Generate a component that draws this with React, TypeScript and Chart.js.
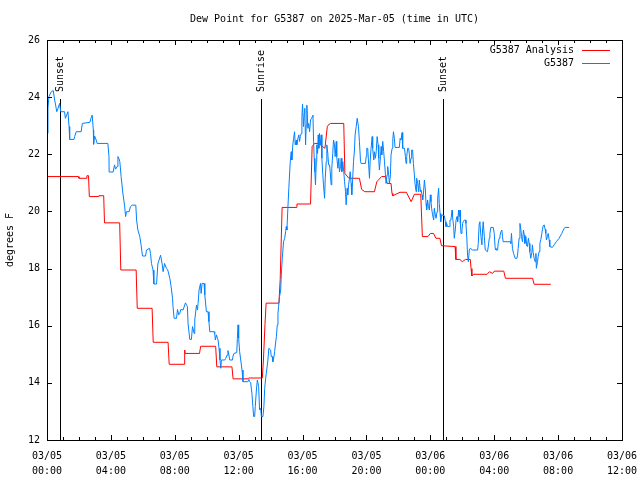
import React, { useEffect, useRef } from "react";
import { Chart, registerables } from "chart.js";

Chart.register(...registerables);

const chartTitle = "Dew Point for G5387 on 2025-Mar-05 (time in UTC)";
const yAxisTitle = "degrees F";
const xTickDates = ["03/05", "03/05", "03/05", "03/05", "03/05", "03/05", "03/06", "03/06", "03/06", "03/06"];
const xTickTimes = ["00:00", "04:00", "08:00", "12:00", "16:00", "20:00", "00:00", "04:00", "08:00", "12:00"];
const yTicks = [12, 14, 16, 18, 20, 22, 24, 26];
const sunLabels = ["Sunset", "Sunrise", "Sunset"];
const sunHours = [0.82, 13.39, 24.77];
const seriesNames = ["G5387 Analysis", "G5387"];
const seriesColors = ["#ff0000", "#0080ff"];

// [hours since 2025-03-05 00:00 UTC, dew point °F]
const analysisSeries: [number, number][] = [
  [0, 21.22], [1.96, 21.22], [2.0, 21.16], [2.45, 21.16], [2.5, 21.25], [2.6, 21.25], [2.65, 20.52],
  [3.2, 20.52], [3.25, 20.55], [3.55, 20.55], [3.6, 19.6], [4.55, 19.6], [4.62, 17.95], [5.58, 17.95],
  [5.65, 16.61], [6.58, 16.61], [6.65, 15.42], [7.58, 15.42], [7.65, 14.65], [8.58, 14.65], [8.62, 15.15],
  [8.65, 15.03], [9.55, 15.03], [9.62, 15.28], [10.56, 15.28], [10.63, 14.56], [11.58, 14.56], [11.65, 14.14],
  [12.58, 14.14], [12.62, 14.17], [13.48, 14.17], [13.55, 14.8], [13.65, 16.08], [13.72, 16.79], [14.52, 16.79],
  [14.6, 17.62], [14.72, 20.14], [15.6, 20.14], [15.65, 20.26], [16.5, 20.26], [16.6, 22.27], [16.75, 22.38],
  [17.0, 22.38], [17.4, 22.21], [17.55, 22.97], [17.6, 23.02], [17.75, 23.08], [18.58, 23.08], [18.65, 21.33],
  [18.9, 21.16], [19.56, 21.16], [19.7, 20.77], [19.9, 20.69], [20.5, 20.69], [20.65, 21.04], [20.95, 21.22],
  [21.2, 21.22], [21.3, 20.98], [21.54, 20.98], [21.6, 20.63], [21.65, 20.55], [22.1, 20.67], [22.5, 20.67],
  [22.8, 20.34], [23.0, 20.6], [23.4, 20.6], [23.5, 19.12], [23.85, 19.12], [24.0, 19.23], [24.2, 19.23],
  [24.35, 19.06], [24.6, 19.06], [24.7, 18.8], [25.55, 18.77], [25.6, 18.32], [25.85, 18.32], [26.0, 18.24],
  [26.2, 18.32], [26.5, 18.32], [26.55, 18.0], [26.6, 17.74], [26.7, 17.8], [27.55, 17.8], [27.7, 17.89],
  [27.9, 17.83], [28.0, 17.91], [28.6, 17.91], [28.7, 17.66], [30.4, 17.66], [30.5, 17.45], [31.54, 17.45],
];

const observedSeries: [number, number][] = [
  [0.0, 22.73], [0.06, 23.61], [0.12, 24.02], [0.27, 24.19], [0.39, 24.23], [0.48, 23.9], [0.54, 23.72],
  [0.61, 23.49], [0.69, 23.61], [0.79, 23.78], [0.86, 23.49], [1.1, 23.49], [1.15, 23.26], [1.23, 23.37],
  [1.31, 23.49], [1.38, 22.97], [1.42, 22.52], [1.69, 22.52], [1.73, 22.62], [1.83, 22.79], [2.14, 22.79],
  [2.21, 23.08], [2.69, 23.12], [2.75, 23.26], [2.83, 23.37], [2.9, 22.85], [2.92, 22.35], [2.98, 22.64],
  [3.08, 22.5], [3.14, 22.38], [3.81, 22.38], [3.88, 21.92], [3.89, 21.38], [4.14, 21.38], [4.23, 21.63],
  [4.29, 21.48], [4.39, 21.57], [4.44, 21.92], [4.5, 21.86], [4.56, 21.74], [4.64, 21.22], [4.75, 20.64],
  [4.86, 20.19], [4.92, 19.82], [4.98, 19.99], [5.14, 19.99], [5.23, 20.17], [5.33, 20.22], [5.56, 20.22],
  [5.61, 19.7], [5.69, 19.35], [5.81, 19.12], [5.89, 18.83], [5.98, 18.44], [6.17, 18.44], [6.23, 18.65],
  [6.42, 18.71], [6.48, 18.53], [6.54, 18.18], [6.64, 17.95], [6.69, 17.46], [6.86, 17.46], [6.94, 18.16],
  [7.11, 18.47], [7.21, 18.16], [7.27, 17.89], [7.36, 18.18], [7.48, 18.0], [7.56, 17.95], [7.69, 17.66],
  [7.77, 17.37], [7.86, 16.96], [7.89, 16.67], [7.96, 16.26], [8.11, 16.26], [8.17, 16.57], [8.25, 16.38],
  [8.31, 16.43], [8.38, 16.57], [8.52, 16.55], [8.67, 16.8], [8.73, 16.73], [8.79, 16.67], [8.83, 16.08],
  [8.94, 15.52], [9.04, 15.52], [9.11, 15.97], [9.21, 15.73], [9.25, 16.2], [9.36, 16.72], [9.42, 16.55],
  [9.46, 16.78], [9.52, 17.25], [9.61, 17.48], [9.65, 17.13], [9.71, 17.48], [9.83, 17.48], [9.88, 17.08],
  [9.98, 16.49], [10.08, 16.49], [10.14, 16.14], [10.19, 15.79], [10.46, 15.79], [10.5, 15.73], [10.54, 15.5],
  [10.61, 15.68], [10.67, 15.56], [10.71, 15.5], [10.77, 15.21], [10.83, 14.8], [10.88, 14.51], [10.92, 14.8],
  [11.13, 14.8], [11.19, 14.86], [11.27, 14.97], [11.33, 15.13], [11.39, 14.97], [11.44, 14.8], [11.61, 14.8],
  [11.65, 14.94], [11.71, 15.03], [11.88, 15.06], [11.92, 15.56], [11.96, 16.03], [12.0, 15.56], [12.06, 15.09],
  [12.13, 14.8], [12.21, 14.45], [12.27, 14.04], [12.58, 14.04], [12.64, 14.12], [12.69, 14.04], [12.75, 14.01],
  [12.83, 13.63], [12.89, 13.17], [12.94, 12.82], [13.0, 12.82], [13.04, 13.17], [13.11, 13.75], [13.17, 14.1],
  [13.25, 13.87], [13.31, 13.05], [13.38, 13.11], [13.42, 12.82], [13.52, 12.82], [13.58, 13.17], [13.63, 13.81],
  [13.69, 14.16], [13.73, 14.33], [13.83, 14.8], [13.89, 15.21], [14.0, 15.15], [14.04, 14.92], [14.11, 14.92],
  [14.14, 14.74], [14.21, 14.92], [14.25, 15.09], [14.36, 15.62], [14.42, 16.03], [14.46, 16.43], [14.5, 16.67],
  [14.56, 17.02], [14.63, 17.25], [14.67, 17.78], [14.73, 18.36], [14.81, 18.94], [14.88, 19.06], [14.94, 19.29],
  [14.98, 19.47], [15.02, 19.35], [15.08, 20.11], [15.14, 20.81], [15.23, 21.74], [15.29, 22.09], [15.33, 21.8],
  [15.39, 22.33], [15.44, 22.56], [15.5, 22.79], [15.54, 22.33], [15.61, 22.5], [15.64, 22.33], [15.71, 22.56],
  [15.77, 22.68], [15.81, 22.45], [15.86, 22.62], [15.92, 22.73], [15.96, 23.32], [16.0, 23.75], [16.06, 22.97],
  [16.11, 23.43], [16.14, 23.61], [16.19, 22.33], [16.23, 23.03], [16.27, 23.72], [16.33, 22.91], [16.38, 23.08],
  [16.44, 22.79], [16.5, 23.2], [16.56, 23.26], [16.61, 23.32], [16.65, 23.37], [16.69, 22.45], [16.73, 21.86],
  [16.77, 21.39], [16.81, 20.93], [16.86, 21.74], [16.89, 22.33], [16.94, 22.03], [16.98, 22.68], [17.02, 22.21],
  [17.06, 22.73], [17.11, 22.33], [17.17, 22.68], [17.21, 21.86], [17.27, 21.28], [17.31, 20.93], [17.38, 20.46],
  [17.42, 21.16], [17.48, 21.74], [17.52, 22.33], [17.58, 22.03], [17.63, 21.63], [17.69, 21.63], [17.73, 21.39],
  [17.79, 20.93], [17.83, 21.51], [17.89, 22.03], [17.94, 22.5], [18.0, 22.33], [18.04, 21.92], [18.11, 22.45],
  [18.14, 21.92], [18.21, 21.51], [18.27, 21.86], [18.31, 21.39], [18.38, 21.57], [18.42, 21.86], [18.46, 21.39],
  [18.52, 21.74], [18.58, 21.39], [18.63, 21.04], [18.69, 20.69], [18.73, 20.23], [18.79, 20.81], [18.83, 20.58],
  [18.88, 20.93], [18.94, 21.16], [18.98, 21.39], [19.04, 20.98], [19.08, 20.58], [19.14, 21.16], [19.19, 21.74],
  [19.25, 22.15], [19.29, 22.68], [19.36, 22.97], [19.42, 23.26], [19.46, 23.26], [19.5, 22.97], [19.56, 22.45],
  [19.63, 21.74], [19.67, 21.68], [19.94, 21.68], [19.98, 21.92], [20.02, 22.21], [20.08, 22.21], [20.14, 21.63],
  [20.19, 21.16], [20.23, 21.74], [20.29, 22.21], [20.36, 22.62], [20.39, 22.21], [20.46, 21.8], [20.5, 22.09],
  [20.56, 21.86], [20.61, 22.09], [20.67, 22.62], [20.73, 22.33], [20.77, 21.86], [20.81, 21.45], [20.88, 21.92],
  [20.92, 22.27], [20.96, 21.98], [21.02, 22.45], [21.08, 22.09], [21.13, 21.74], [21.19, 21.28], [21.23, 20.98],
  [21.29, 21.28], [21.33, 21.57], [21.39, 21.28], [21.44, 20.98], [21.5, 21.28], [21.54, 21.98], [21.61, 22.21],
  [21.65, 22.5], [21.69, 22.79], [21.75, 22.56], [21.79, 22.24], [22.06, 22.24], [22.11, 22.56], [22.17, 22.5],
  [22.23, 22.76], [22.27, 22.21], [22.38, 22.21], [22.44, 21.92], [22.48, 21.68], [22.52, 21.92], [22.58, 22.21],
  [22.64, 22.21], [22.69, 21.98], [22.73, 21.68], [22.79, 21.86], [22.83, 22.15], [22.89, 22.15], [22.94, 21.68],
  [23.0, 21.28], [23.04, 20.98], [23.11, 20.69], [23.14, 21.16], [23.21, 20.98], [23.27, 20.69], [23.31, 21.1],
  [23.38, 20.69], [23.42, 20.75], [23.48, 20.58], [23.52, 20.4], [23.56, 20.58], [23.63, 21.1], [23.69, 20.75],
  [23.73, 20.28], [23.77, 20.05], [23.83, 20.4], [23.88, 20.17], [23.94, 20.05], [24.0, 20.58], [24.04, 20.34],
  [24.08, 20.11], [24.14, 19.88], [24.21, 19.7], [24.25, 20.11], [24.31, 19.88], [24.36, 19.76], [24.42, 19.99],
  [24.46, 20.46], [24.52, 20.81], [24.56, 20.28], [24.61, 19.93], [24.65, 19.64], [24.71, 19.88], [24.88, 19.85],
  [24.94, 19.64], [24.98, 19.47], [25.02, 19.58], [25.08, 19.47], [25.19, 19.47], [25.23, 19.7], [25.29, 19.7],
  [25.36, 20.05], [25.39, 19.82], [25.46, 19.47], [25.5, 19.06], [25.56, 19.35], [25.61, 19.7], [25.67, 19.82],
  [25.71, 19.64], [25.77, 20.05], [25.81, 19.82], [25.86, 20.05], [25.88, 19.58], [25.92, 19.23], [25.98, 19.35],
  [26.02, 19.58], [26.06, 19.64], [26.13, 19.7], [26.19, 19.7], [26.23, 19.58], [26.29, 19.0], [26.33, 18.47],
  [26.38, 18.24], [26.44, 18.65], [26.5, 18.71], [26.64, 18.65], [26.96, 18.65], [27.0, 18.88], [27.06, 19.58],
  [27.1, 19.64], [27.17, 19.12], [27.23, 18.83], [27.27, 19.35], [27.31, 19.64], [27.38, 19.12], [27.44, 18.65],
  [27.58, 18.59], [27.64, 18.83], [27.69, 19.06], [27.73, 19.23], [27.79, 19.44], [27.94, 19.44], [28.0, 19.23],
  [28.06, 18.71], [28.11, 18.65], [28.21, 18.65], [28.25, 18.88], [28.31, 19.06], [28.36, 19.14], [28.42, 19.29],
  [28.48, 19.35], [28.52, 19.12], [28.56, 18.94], [29.0, 18.94], [29.04, 18.88], [29.08, 19.23], [29.14, 18.71],
  [29.21, 18.53], [29.25, 18.47], [29.31, 18.36], [29.42, 18.36], [29.46, 18.47], [29.5, 18.71], [29.56, 19.06],
  [29.61, 19.58], [29.67, 19.35], [29.71, 19.12], [29.77, 18.94], [29.83, 19.35], [29.88, 19.17], [29.92, 18.88],
  [29.98, 19.12], [30.04, 18.79], [30.08, 18.77], [30.14, 19.06], [30.19, 18.88], [30.23, 18.59], [30.29, 18.36],
  [30.36, 18.59], [30.39, 18.83], [30.44, 18.56], [30.5, 18.36], [30.56, 18.24], [30.61, 18.53], [30.64, 18.01],
  [30.71, 18.24], [30.75, 18.42], [30.81, 18.59], [30.86, 18.88], [30.92, 19.02], [30.98, 19.23], [31.02, 19.37],
  [31.06, 19.49], [31.13, 19.53], [31.19, 19.37], [31.23, 19.23], [31.27, 19.0], [31.33, 19.12], [31.38, 19.23],
  [31.44, 19.0], [31.48, 18.77], [31.64, 18.74], [31.75, 18.83], [31.89, 18.94], [32.06, 19.06], [32.23, 19.23],
  [32.38, 19.41], [32.44, 19.44], [32.69, 19.44],
];

const FONT = "'DejaVu Sans Mono', 'Liberation Mono', monospace";

const framePlugin = {
  id: "gnuplotFrame",
  beforeDatasetsDraw(chart: any) {
    const { ctx, chartArea, scales } = chart;
    ctx.save();
    ctx.strokeStyle = "#000";
    ctx.lineWidth = 1;
    ctx.fillStyle = "#000";
    ctx.font = `10px ${FONT}`;
    sunHours.forEach((h, i) => {
      const x = Math.round(scales.x.getPixelForValue(h)) + 0.5;
      ctx.beginPath();
      ctx.moveTo(x, chartArea.bottom);
      ctx.lineTo(x, chartArea.top + 59);
      ctx.stroke();
      ctx.save();
      ctx.translate(x, chartArea.top + 52);
      ctx.rotate(-Math.PI / 2);
      ctx.textAlign = "left";
      ctx.textBaseline = "middle";
      ctx.fillText(sunLabels[i], 0, 0);
      ctx.restore();
    });
    ctx.restore();
  },
  afterDraw(chart: any) {
    const { ctx, chartArea, scales } = chart;
    const { left, right, top, bottom } = chartArea;
    ctx.save();
    ctx.strokeStyle = "#000";
    ctx.lineWidth = 1;
    ctx.beginPath();
    for (let h = 0; h <= 36; h += 1) {
      const x = Math.round(scales.x.getPixelForValue(h)) + 0.5;
      const len = h % 4 === 0 ? 5 : 3;
      ctx.moveTo(x, bottom);
      ctx.lineTo(x, bottom - len);
      ctx.moveTo(x, top);
      ctx.lineTo(x, top + len);
    }
    yTicks.forEach((v) => {
      const y = Math.round(scales.y.getPixelForValue(v)) + 0.5;
      ctx.moveTo(left, y);
      ctx.lineTo(left + 5, y);
      ctx.moveTo(right, y);
      ctx.lineTo(right - 5, y);
    });
    ctx.stroke();
    ctx.strokeRect(Math.round(left) + 0.5, Math.round(top) + 0.5, Math.round(right - left), Math.round(bottom - top));

    ctx.fillStyle = "#000";
    ctx.font = `10px ${FONT}`;
    ctx.textAlign = "center";
    ctx.textBaseline = "middle";
    ctx.fillText(chartTitle, (left + right) / 2, 19);

    seriesNames.forEach((name, i) => {
      const y = top + 10 + i * 13;
      ctx.textAlign = "right";
      ctx.fillStyle = "#000";
      ctx.fillText(name, right - 48, y);
      ctx.strokeStyle = seriesColors[i];
      ctx.beginPath();
      ctx.moveTo(right - 40, Math.round(y) + 0.5);
      ctx.lineTo(right - 12, Math.round(y) + 0.5);
      ctx.stroke();
    });
    ctx.restore();
  },
};

export default function App() {
  const canvasRef = useRef<HTMLCanvasElement | null>(null);

  useEffect(() => {
    if (!canvasRef.current) return;
    const chart = new Chart(canvasRef.current, {
      type: "line",
      data: {
        datasets: [
          {
            label: seriesNames[0],
            data: analysisSeries.map(([x, y]) => ({ x, y })),
            borderColor: seriesColors[0],
            borderWidth: 1,
            pointRadius: 0,
            tension: 0,
            order: 1,
          },
          {
            label: seriesNames[1],
            data: observedSeries.map(([x, y]) => ({ x, y })),
            borderColor: seriesColors[1],
            borderWidth: 1,
            pointRadius: 0,
            tension: 0,
            order: 0,
          },
        ],
      },
      options: {
        animation: false,
        responsive: false,
        layout: { padding: { top: 40, right: 18, bottom: 0, left: 0 } },
        plugins: {
          legend: { display: false },
          tooltip: { enabled: false },
          title: { display: false },
        },
        scales: {
          x: {
            type: "linear",
            min: 0,
            max: 36,
            grid: { display: false, drawTicks: false },
            border: { display: false },
            ticks: {
              stepSize: 4,
              autoSkip: false,
              maxRotation: 0,
              padding: 8.5,
              color: "#000",
              font: { family: FONT, size: 10, lineHeight: 1.5 },
              callback: (_v: any, i: number) => [xTickDates[i], xTickTimes[i]],
            },
            afterFit: (s: any) => {
              s.height = 40;
              s.paddingLeft = 0;
              s.paddingRight = 0;
            },
          },
          y: {
            type: "linear",
            min: 12,
            max: 26,
            grid: { display: false, drawTicks: false },
            border: { display: false },
            afterBuildTicks: (s: any) => {
              s.ticks = yTicks.map((v) => ({ value: v }));
            },
            ticks: {
              padding: 7,
              color: "#000",
              font: { family: FONT, size: 10 },
              callback: (v: any) => String(v),
            },
            title: {
              display: true,
              text: yAxisTitle,
              color: "#000",
              font: { family: FONT, size: 10 },
              padding: { top: 4, bottom: 4 },
            },
            afterFit: (s: any) => {
              s.width = 47;
              s.paddingTop = 0;
              s.paddingBottom = 0;
            },
          },
        },
      },
      plugins: [framePlugin],
    });
    return () => chart.destroy();
  }, []);

  return (
    <div style={{ position: "fixed", left: 0, top: 0, width: 640, height: 480, background: "#fff" }}>
      <canvas ref={canvasRef} width={640} height={480} style={{ display: "block" }} />
    </div>
  );
}
